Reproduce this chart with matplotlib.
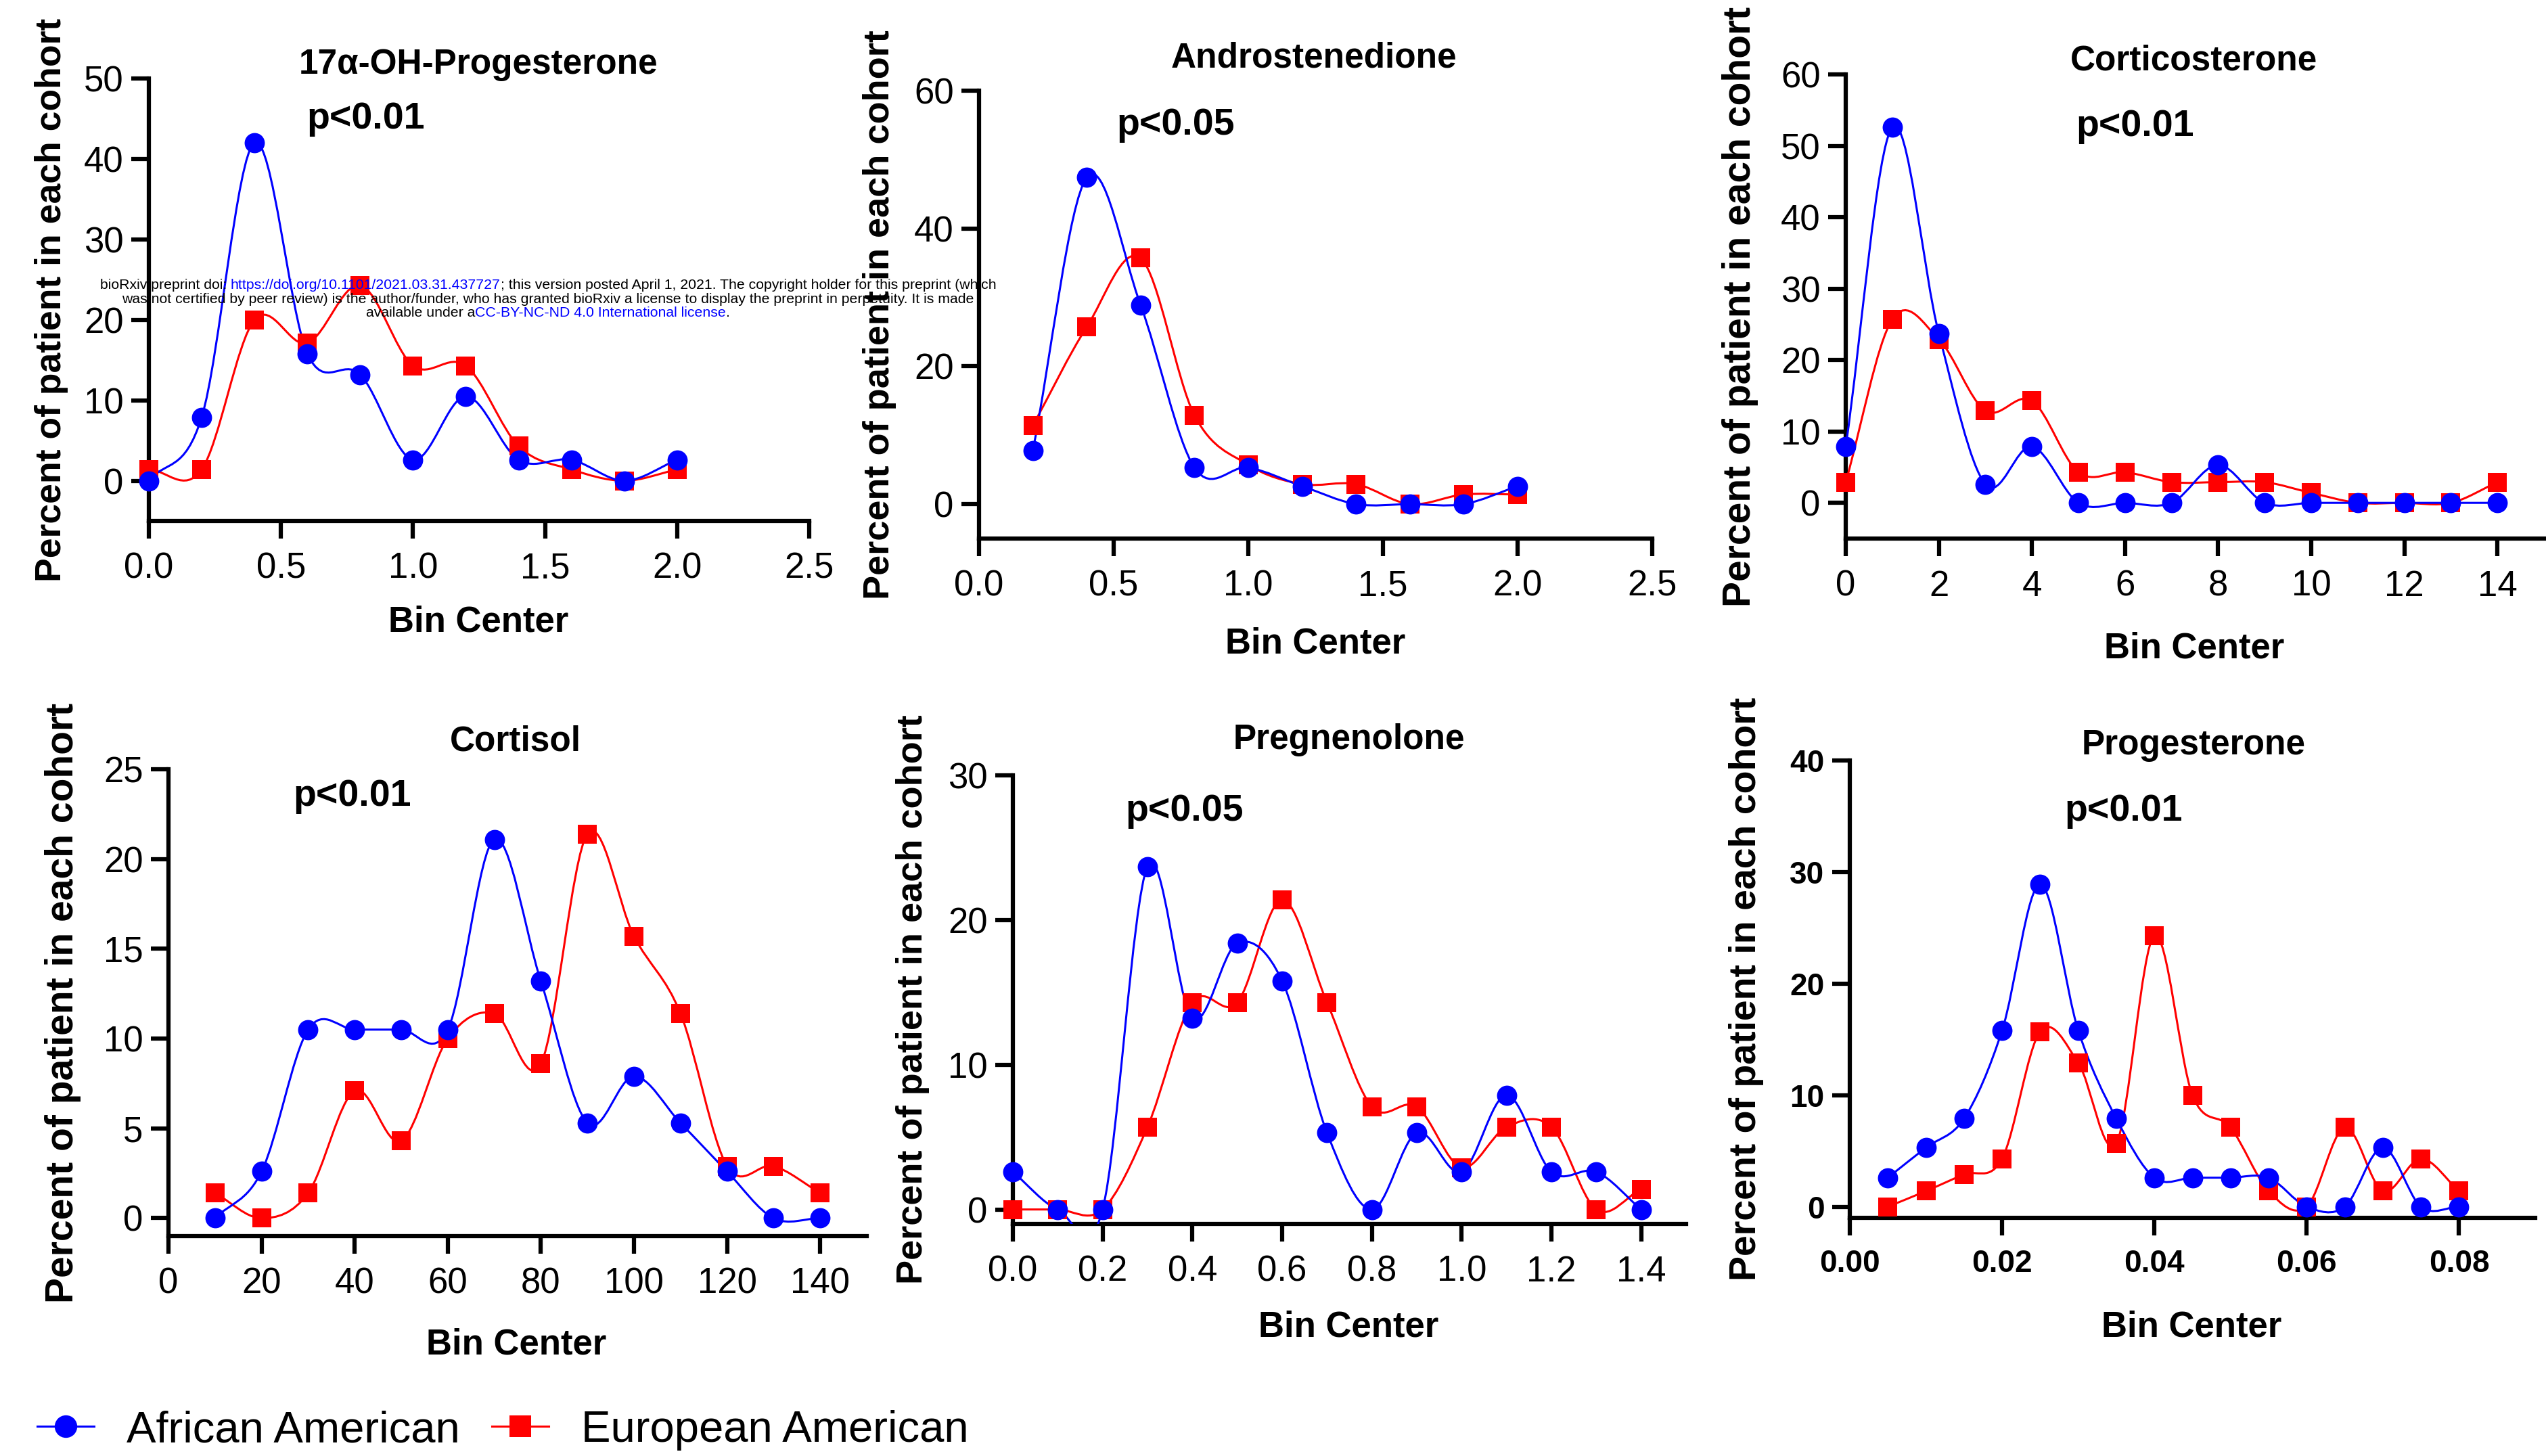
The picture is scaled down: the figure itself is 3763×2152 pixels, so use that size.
import numpy as np
import matplotlib
matplotlib.use("Agg")
import matplotlib.pyplot as plt
from matplotlib.path import Path
from matplotlib.patches import PathPatch
from matplotlib.lines import Line2D
from matplotlib import font_manager

plt.rcParams["font.family"] = ["Liberation Sans", "DejaVu Sans"]

# ---- data ----
ohp_x = [0.0, 0.2, 0.4, 0.6, 0.8, 1.0, 1.2, 1.4, 1.6, 1.8, 2.0]
ohp_aa = [0, 7.9, 42.0, 15.8, 13.2, 2.6, 10.5, 2.6, 2.6, 0, 2.6]
ohp_ea = [1.4, 1.4, 20.0, 17.1, 24.3, 14.3, 14.3, 4.3, 1.4, 0, 1.4]

andro_x = [0.2, 0.4, 0.6, 0.8, 1.0, 1.2, 1.4, 1.6, 1.8, 2.0]
andro_aa = [7.8, 47.4, 28.9, 5.3, 5.3, 2.6, 0, 0, 0, 2.6]
andro_ea = [11.4, 25.7, 35.7, 12.9, 5.7, 2.9, 2.9, 0, 1.4, 1.4]

cortico_x = [0, 1, 2, 3, 4, 5, 6, 7, 8, 9, 10, 11, 12, 13, 14]
cortico_aa = [7.9, 52.6, 23.7, 2.6, 7.9, 0, 0, 0, 5.3, 0, 0, 0, 0, 0, 0]
cortico_ea = [2.9, 25.7, 22.9, 12.9, 14.3, 4.3, 4.3, 2.9, 2.9, 2.9, 1.4, 0, 0, 0, 2.9]

cortisol_x = [10, 20, 30, 40, 50, 60, 70, 80, 90, 100, 110, 120, 130, 140]
cortisol_aa = [0, 2.6, 10.5, 10.5, 10.5, 10.5, 21.1, 13.2, 5.3, 7.9, 5.3, 2.6, 0, 0]
cortisol_ea = [1.4, 0, 1.4, 7.1, 4.3, 10.0, 11.4, 8.6, 21.4, 15.7, 11.4, 2.9, 2.9, 1.4]

preg_x = [0.0, 0.1, 0.2, 0.3, 0.4, 0.5, 0.6, 0.7, 0.8, 0.9, 1.0, 1.1, 1.2, 1.3, 1.4]
preg_aa = [2.6, 0, 0, 23.7, 13.2, 18.4, 15.8, 5.3, 0, 5.3, 2.6, 7.9, 2.6, 2.6, 0]
preg_ea = [0, 0, 0, 5.7, 14.3, 14.3, 21.4, 14.3, 7.1, 7.1, 2.9, 5.7, 5.7, 0, 1.4]

prog_x = [0.005, 0.010, 0.015, 0.020, 0.025, 0.030, 0.035, 0.040,
          0.045, 0.050, 0.055, 0.060, 0.065, 0.070, 0.075, 0.080]
prog_aa = [2.6, 5.3, 7.9, 15.8, 28.9, 15.8, 7.9, 2.6, 2.6, 2.6, 2.6, 0, 0, 5.3, 0, 0]
prog_ea = [0, 1.4, 2.9, 4.3, 15.7, 12.9, 5.7, 24.3, 10.0, 7.1, 1.4, 0, 7.1, 1.4, 4.3, 1.4]

titles = ["17\u03b1-OH-Progesterone", "Androstenedione", "Corticosterone",
          "Cortisol", "Pregnenolone", "Progesterone"]
pvalues = ["p<0.01", "p<0.05", "p<0.01", "p<0.01", "p<0.05", "p<0.01"]
series_names = ["African American", "European American"]

xticks_list = [
    [0.0, 0.5, 1.0, 1.5, 2.0, 2.5],
    [0.0, 0.5, 1.0, 1.5, 2.0, 2.5],
    [0, 2, 4, 6, 8, 10, 12, 14],
    [0, 20, 40, 60, 80, 100, 120, 140],
    [0.0, 0.2, 0.4, 0.6, 0.8, 1.0, 1.2, 1.4],
    [0.00, 0.02, 0.04, 0.06, 0.08],
]
xfmt = ["{:.1f}", "{:.1f}", "{:d}", "{:d}", "{:.1f}", "{:.2f}"]
yticks_list = [
    [0, 10, 20, 30, 40, 50],
    [0, 20, 40, 60],
    [0, 10, 20, 30, 40, 50, 60],
    [0, 5, 10, 15, 20, 25],
    [0, 10, 20, 30],
    [0, 10, 20, 30, 40],
]

# ---- layout (pixel positions in the 3763x2152 canvas) ----
W, H = 3763, 2152
BLUE = "#0000ff"
RED = "#ff0000"


def fx(px):
    return px / W


def fy(py):
    return 1 - py / H


panels = [
    dict(x=ohp_x, aa=ohp_aa, ea=ohp_ea, box=(220, 116, 1196, 770), xlim=(0, 2.5), ylim=(-5, 50),
         title=(707, 109), p=(453, 190), binc=(707, 934), ylab=(76, 443, 38.5), bold=False),
    dict(x=andro_x, aa=andro_aa, ea=andro_ea, box=(1447, 134, 2442, 796), xlim=(0, 2.5), ylim=(-5, 60),
         title=(1942, 99), p=(1650, 199), binc=(1944, 966), ylab=(1300, 465, 39), bold=False),
    dict(x=cortico_x, aa=cortico_aa, ea=cortico_ea, box=(2728, 110, 3760, 796), xlim=(0, 15), ylim=(-5, 60),
         title=(3242, 104), p=(3068, 201), binc=(3243, 973), ylab=(2572, 453, 41), bold=False),
    dict(x=cortisol_x, aa=cortisol_aa, ea=cortisol_ea, box=(249, 1137, 1281, 1827), xlim=(0, 150), ylim=(-1, 25),
         title=(762, 1110), p=(433, 1191), binc=(763, 2001), ylab=(93, 1482, 41), bold=False),
    dict(x=preg_x, aa=preg_aa, ea=preg_ea, box=(1497, 1146, 2492, 1809), xlim=(0, 1.5), ylim=(-1, 30),
         title=(1994, 1107), p=(1663, 1213), binc=(1993, 1976), ylab=(1349, 1477, 39), bold=False),
    dict(x=prog_x, aa=prog_aa, ea=prog_ea, box=(2734, 1124, 3747, 1800), xlim=(0, 0.09), ylim=(-1, 40),
         title=(3242, 1115), p=(3051, 1213), binc=(3239, 1976), ylab=(2581, 1462, 40), bold=True),
]


def smooth_path(x, y):
    """cubic (Catmull-Rom style) curve through the points, as bezier segments"""
    x = np.asarray(x, float)
    y = np.asarray(y, float)
    m = np.empty(len(x))
    m[1:-1] = (y[2:] - y[:-2]) / (x[2:] - x[:-2])
    m[0] = (y[1] - y[0]) / (x[1] - x[0])
    m[-1] = (y[-1] - y[-2]) / (x[-1] - x[-2])
    verts = [(x[0], y[0])]
    codes = [Path.MOVETO]
    for i in range(len(x) - 1):
        h = x[i + 1] - x[i]
        verts += [(x[i] + h / 3, y[i] + m[i] * h / 3),
                  (x[i + 1] - h / 3, y[i + 1] - m[i + 1] * h / 3),
                  (x[i + 1], y[i + 1])]
        codes += [Path.CURVE4] * 3
    return Path(verts, codes)


fig = plt.figure(figsize=(W / 100, H / 100), dpi=100)

for i, p in enumerate(panels):
    l, t, r, b = p["box"]
    ax = fig.add_axes([fx(l), fy(b), (r - l) / W, (b - t) / H])
    ax.set_xlim(*p["xlim"])
    ax.set_ylim(*p["ylim"])
    for s in ["top", "right"]:
        ax.spines[s].set_visible(False)
    for s in ["left", "bottom"]:
        ax.spines[s].set_linewidth(4.5)

    wt = "bold" if p["bold"] else "normal"
    fs = 33 if p["bold"] else 38
    ax.set_xticks(xticks_list[i])
    ax.set_xticklabels([xfmt[i].format(v) for v in xticks_list[i]], fontsize=fs, fontweight=wt)
    ax.set_yticks(yticks_list[i])
    ax.set_yticklabels([str(v) for v in yticks_list[i]], fontsize=fs, fontweight=wt)
    ax.tick_params(axis="both", direction="out", length=19, width=4.5)
    ax.tick_params(axis="x", pad=14)
    ax.tick_params(axis="y", pad=8)

    for yvals, col, mk, ms in [(p["ea"], RED, "s", 20.5), (p["aa"], BLUE, "o", 21.5)]:
        ax.add_patch(PathPatch(smooth_path(p["x"], yvals), fill=False, edgecolor=col, lw=2.2, zorder=3))
        ax.plot(p["x"], yvals, linestyle="none", marker=mk, ms=ms, color=col,
                markeredgewidth=0, clip_on=False, zorder=4)

    fig.text(fx(p["title"][0]), fy(p["title"][1]), titles[i], ha="center", va="baseline",
             fontsize=37, fontweight="bold")
    fig.text(fx(p["p"][0]), fy(p["p"][1]), pvalues[i], ha="left", va="baseline",
             fontsize=40, fontweight="bold")
    fig.text(fx(p["binc"][0]), fy(p["binc"][1]), "Bin Center", ha="center", va="baseline",
             fontsize=38, fontweight="bold")
    fig.text(fx(p["ylab"][0]), fy(p["ylab"][1]), "Percent of patient in each cohort",
             ha="center", va="center", rotation=90, fontsize=p["ylab"][2], fontweight="bold")

# legend
handles = [Line2D([], [], color=BLUE, marker="o", ms=24, lw=2.2, markeredgewidth=0),
           Line2D([], [], color=RED, marker="s", ms=23, lw=2.2, markeredgewidth=0)]
fig.legend(handles, series_names, loc="center left", bbox_to_anchor=(fx(55), fy(2114)),
           ncol=2, frameon=False, fontsize=47, borderpad=0, borderaxespad=0,
           handlelength=1.29, handletextpad=0.73, columnspacing=0.73)

# bioRxiv stamp
names = {f.name for f in font_manager.fontManager.ttflist}
wm_family = "Liberation Sans Narrow" if "Liberation Sans Narrow" in names else "Liberation Sans"
wm_lines = [
    [("bioRxiv preprint doi: ", "black"), ("https://doi.org/10.1101/2021.03.31.437727", BLUE),
     ("; this version posted April 1, 2021. The copyright holder for this preprint (which", "black")],
    [("was not certified by peer review) is the author/funder, who has granted bioRxiv a license "
      "to display the preprint in perpetuity. It is made", "black")],
    [("available under a", "black"), ("CC-BY-NC-ND 4.0 International license", BLUE), (".", "black")],
]
wm_baselines = [427, 448, 468]

renderer = fig.canvas.get_renderer()


def text_width(s, size):
    t = fig.text(0, 0, s, fontsize=size, family=wm_family)
    w = t.get_window_extent(renderer).width
    t.remove()
    return w


line1 = "".join(s for s, _ in wm_lines[0])
wm_size = 14 * 1332 / text_width(line1, 14)
xw = text_width("x", wm_size)
for segs, base in zip(wm_lines, wm_baselines):
    full = "".join(s for s, _ in segs)
    left = 810 - text_width(full, wm_size) / 2
    prefix = ""
    for s, col in segs:
        off = 0 if not prefix else text_width(prefix + "x", wm_size) - xw
        fig.text(fx(left + off), fy(base), s, color=col, ha="left", va="baseline",
                 fontsize=wm_size, family=wm_family, zorder=10)
        prefix += s

fig.savefig("out.png", dpi=100)
